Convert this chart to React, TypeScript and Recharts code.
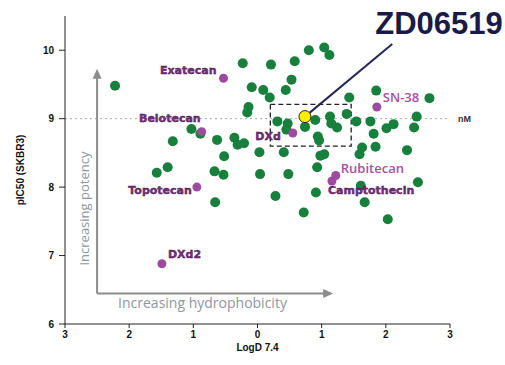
import React from 'react';
import { ScatterChart, Scatter, XAxis, YAxis, ReferenceLine, ReferenceArea, LabelList } from 'recharts';

// Other camptothecin analogues (green)
const otherLogD = [-2.22, -0.23, -0.09, 0.09, 0.19, -0.14, -0.16, 0.21, 0.58, 0.8, 1.04, 1.12, 0.53, 0.44,
  -1.03, -0.89, -1.32, -0.63, -0.36, -0.31, -0.21, -0.52, -1.4, -1.57, -0.67, -0.53,
  0.31, 0.47, 0.45, 0.74, 0.9, 1.13, 1.15, 1.24, 1.43, 1.85, 2.68, 1.39, 1.54, 1.76, 2.01, 2.12, 2.48, 2.44,
  1.81, 1.63, 1.84, 1.59, 2.33, 0.03, 0.41, 0.98, 1.04, 0.94, 0.96, 0.04, 0.48, 0.93, 0.91, 0.28, -0.66,
  0.72, 2.5, 1.61, 1.67, 2.03];
const otherPIC50 = [9.48, 9.81, 9.46, 9.42, 9.31, 9.17, 9.09, 9.79, 9.84, 10.0, 10.04, 9.93, 9.57, 9.42,
  8.85, 8.78, 8.67, 8.69, 8.72, 8.62, 8.64, 8.45, 8.29, 8.21, 8.23, 8.18,
  8.96, 8.93, 8.84, 8.88, 8.98, 9.03, 8.93, 8.87, 9.31, 9.41, 9.3, 9.07, 8.96, 8.96, 8.86, 8.92, 9.03, 8.87,
  8.78, 8.58, 8.59, 8.48, 8.54, 8.51, 8.51, 8.46, 8.48, 8.74, 8.68, 8.19, 8.19, 8.29, 7.92, 7.87, 7.78,
  7.63, 8.07, 8.02, 7.78, 7.53];

// Known payloads (purple)
const payloadNames = ['Exatecan', 'Belotecan', 'DXd', 'SN-38', 'Rubitecan', 'Camptothecin', 'Topotecan', 'DXd2'];
const payloadLogD = [-0.53, -0.87, 0.55, 1.86, 1.22, 1.16, -0.945, -1.49];
const payloadPIC50 = [9.59, 8.81, 8.79, 9.17, 8.17, 8.09, 8.0, 6.88];

// Lead compound
const leadName = 'ZD06519';
const leadLogD = [0.74];
const leadPIC50 = [9.03];

const xTicks = [-3, -2, -1, 0, 1, 2, 3];
const yTicks = [6, 7, 8, 9, 10];

const otherData = otherLogD.map((x, i) => ({ x, y: otherPIC50[i] }));
const payloadData = payloadLogD.map((x, i) => ({ x, y: payloadPIC50[i], name: payloadNames[i] }));
const leadData = leadLogD.map((x, i) => ({ x, y: leadPIC50[i], name: leadName }));

// label placement (style only)
const labelPlace: Record<string, { dx: number; dy: number; anchor: string; light: boolean }> = {
  Exatecan: { dx: -7, dy: -8, anchor: 'end', light: false },
  Belotecan: { dx: -1, dy: -13, anchor: 'end', light: false },
  DXd: { dx: -12, dy: 3, anchor: 'end', light: false },
  'SN-38': { dx: 6, dy: -10, anchor: 'start', light: true },
  Rubitecan: { dx: 5, dy: -7, anchor: 'start', light: true },
  Camptothecin: { dx: -4, dy: 10, anchor: 'start', light: false },
  Topotecan: { dx: -5, dy: 3, anchor: 'end', light: false },
  DXd2: { dx: 6, dy: -9, anchor: 'start', light: false },
};

const PayloadLabel = (props: any) => {
  const { x, y, width, height, value } = props;
  const cx = x + (width || 0) / 2;
  const cy = y + (height || 0) / 2;
  const p = labelPlace[value];
  if (!p) return null;
  return (
    <text
      x={cx + p.dx}
      y={cy + p.dy}
      textAnchor={p.anchor as any}
      dominantBaseline="central"
      fontFamily={p.light ? 'Open Sans' : 'DejaVu Sans'}
      fontWeight={p.light ? 600 : 700}
      fontSize={p.light ? 13 : 11}
      fill={p.light ? '#a650a8' : '#7d2e82'}
      stroke={p.light ? 'none' : '#3a1440'}
      strokeWidth={p.light ? 0 : 0.4}
    >
      {value}
    </text>
  );
};

const VArrow = (props: any) => {
  const { x1, y1, y2 } = props;
  const bottom = Math.max(y1, y2);
  const top = Math.min(y1, y2);
  return (
    <g>
      <line x1={x1} y1={bottom} x2={x1} y2={top + 8} stroke="#8c8c8c" strokeWidth={2} />
      <polygon points={`${x1 - 4.5},${top + 10} ${x1 + 4.5},${top + 10} ${x1},${top}`} fill="#8c8c8c" />
      <text
        x={x1 - 13}
        y={bottom - 85}
        transform={`rotate(-90 ${x1 - 13} ${bottom - 85})`}
        textAnchor="middle"
        dominantBaseline="central"
        fontFamily="Open Sans"
        fontSize={13}
        fill="#8e95a5"
      >
        Increasing potency
      </text>
    </g>
  );
};

const HArrow = (props: any) => {
  const { x1, y1, x2 } = props;
  const left = Math.min(x1, x2);
  const right = Math.max(x1, x2);
  return (
    <g>
      <line x1={left} y1={y1} x2={right - 8} y2={y1} stroke="#8c8c8c" strokeWidth={2} />
      <polygon points={`${right - 10},${y1 - 4.5} ${right - 10},${y1 + 4.5} ${right},${y1}`} fill="#8c8c8c" />
      <text
        x={left + 21}
        y={y1 + 9}
        dominantBaseline="central"
        fontFamily="Open Sans"
        fontSize={14}
        fill="#8e95a5"
      >
        Increasing hydrophobicity
      </text>
    </g>
  );
};

const LeadConnector = (props: any) => {
  const { x1, y1, x2, y2 } = props;
  const ex = Math.max(x1, x2) === x1 ? x1 : x2;
  const ey = Math.max(x1, x2) === x1 ? y1 : y2;
  return (
    <g>
      <line x1={x1} y1={y1} x2={x2} y2={y2} stroke="#26265a" strokeWidth={2} />
      <text
        x={ex - 17}
        y={ey - 10}
        fontFamily="Liberation Sans"
        fontWeight={700}
        fontSize={31}
        fill="#1a1a48"
      >
        {leadName}
      </text>
    </g>
  );
};

const tickStyle = { fontFamily: 'Liberation Sans', fontWeight: 700, fontSize: 10, fill: '#111' };

export default function App() {
  return (
    <div style={{ position: 'absolute', left: 0, top: 0, width: 505, height: 365, background: '#fff' }}>
      <ScatterChart width={505} height={365} margin={{ top: 16, right: 55, bottom: 11, left: 0 }}>
        <XAxis
          type="number"
          dataKey="x"
          domain={[-3, 3]}
          ticks={xTicks}
          tickFormatter={(v: number) => String(Math.abs(v))}
          tick={tickStyle}
          tickSize={4}
          tickMargin={3}
          stroke="#222"
          height={30}
          label={{
            content: (p: any) => {
              const vb = p.viewBox;
              return (
                <text x={vb.x + vb.width / 2} y={vb.y + 27} textAnchor="middle" fontFamily="Liberation Sans" fontWeight={700} fontSize={10} fill="#111">
                  LogD 7.4
                </text>
              );
            },
          }}
        />
        <YAxis
          type="number"
          dataKey="y"
          domain={[6, 10.5]}
          ticks={yTicks}
          tick={tickStyle}
          tickSize={6}
          tickMargin={5}
          stroke="#222"
          width={65}
          label={{
            content: (p: any) => {
              const vb = p.viewBox;
              const cx = 20;
              const cy = vb.y + vb.height / 2;
              return (
                <text x={cx} y={cy} transform={`rotate(-90 ${cx} ${cy})`} textAnchor="middle" dominantBaseline="central" fontFamily="Liberation Sans" fontWeight={700} fontSize={10} fill="#111">
                  pIC50 (SKBR3)
                </text>
              );
            },
          }}
        />
        <ReferenceLine
          y={9}
          stroke="#aaaaaa"
          strokeDasharray="2 3"
          label={{ value: 'nM', position: 'right', offset: 8, fontFamily: 'Liberation Sans', fontWeight: 700, fontSize: 9, fill: '#333' }}
        />
        <ReferenceLine segment={[{ x: -2.5, y: 6.445 }, { x: -2.5, y: 9.73 }]} shape={VArrow} />
        <ReferenceLine segment={[{ x: -2.5, y: 6.445 }, { x: 1.18, y: 6.445 }]} shape={HArrow} />
        <ReferenceArea x1={0.2} x2={1.46} y1={8.6} y2={9.21} fill="none" fillOpacity={0} stroke="#222" strokeDasharray="5 3" strokeWidth={1.3} />
        <Scatter
          data={otherData}
          isAnimationActive={false}
          shape={(p: any) => <circle cx={p.cx} cy={p.cy} r={5} fill="#17803d" />}
        />
        <Scatter
          data={payloadData}
          isAnimationActive={false}
          shape={(p: any) => <circle cx={p.cx} cy={p.cy} r={4.5} fill="#9b4ba0" />}
        >
          <LabelList dataKey="name" content={PayloadLabel} />
        </Scatter>
        <ReferenceLine segment={[{ x: 0.74, y: 9.03 }, { x: 2.1, y: 10.09 }]} shape={LeadConnector} />
        <Scatter
          data={leadData}
          isAnimationActive={false}
          shape={(p: any) => <circle cx={p.cx} cy={p.cy} r={6} fill="#ffee00" stroke="#222" strokeWidth={1} />}
        />
      </ScatterChart>
    </div>
  );
}
